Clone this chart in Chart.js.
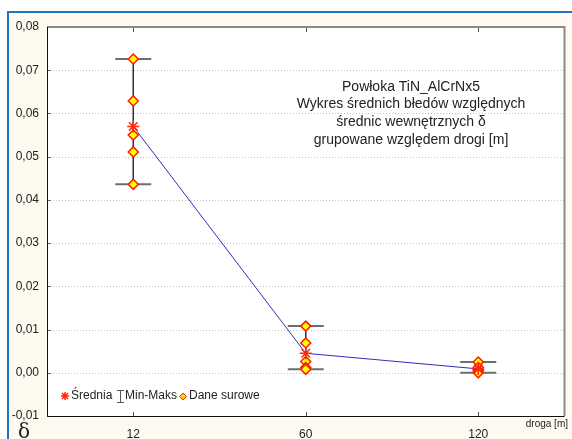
<!DOCTYPE html>
<html>
<head>
<meta charset="utf-8">
<script src="https://cdn.jsdelivr.net/npm/chart.js@4/dist/chart.umd.min.js"></script>
<style>
  html, body { margin: 0; padding: 0; background: #fff; }
  #wrap { width: 572px; height: 439px; }
</style>
</head>
<body>
<div id="wrap"><canvas id="myChart" width="572" height="439"></canvas></div>
<script>
// data
var categories = ['12', '60', '120'];
var rawValues = [
  [0.0726, 0.0629, 0.0550, 0.0511, 0.0436],
  [0.0108, 0.0069, 0.0026, 0.0012, 0.0008],
  [0.0025, 0.0012, 0.0005, 0.0001, 0.0000]
];
var meanValues = [0.0570, 0.0045, 0.0009];
var minValues = [0.0436, 0.0008, 0.0000];
var maxValues = [0.0726, 0.0108, 0.0025];
var yTicks = [-0.01, 0, 0.01, 0.02, 0.03, 0.04, 0.05, 0.06, 0.07, 0.08];
var titleLines = [
  'Powłoka TiN_AlCrNx5',
  'Wykres średnich błedów względnych',
  'średnic wewnętrznych δ',
  'grupowane względem drogi [m]'
];
var legendLabels = ['Średnia', 'Min-Maks', 'Dane surowe'];
var yAxisTitle = 'δ';
var xAxisTitle = 'droga [m]';

var FONT = '"Liberation Sans", Arial, sans-serif';

var rawPoints = [];
rawValues.forEach(function (vals, i) {
  vals.forEach(function (v) { rawPoints.push({ x: categories[i], y: v }); });
});

var chartDeco = {
  id: 'chartDeco',
  beforeDraw: function (chart) {
    var c = chart.ctx, a = chart.chartArea;
    c.save();
    c.fillStyle = '#ffffff';
    c.fillRect(0, 0, chart.width, chart.height);
    c.fillStyle = '#fffaf0';
    c.fillRect(8, 12, chart.width, chart.height);
    c.fillStyle = '#1f73c6';
    c.fillRect(7, 11, chart.width, 2);
    c.fillRect(7, 11, 2, chart.height);
    c.fillStyle = '#ffffff';
    c.fillRect(a.left, a.top, a.right - a.left, a.bottom - a.top);
    c.restore();
  },
  beforeDatasetsDraw: function (chart) {
    var c = chart.ctx, a = chart.chartArea;
    var xs = chart.scales.x, ys = chart.scales.y;
    c.save();
    // dotted grid + inner tick marks
    yTicks.forEach(function (t) {
      var y = Math.round(ys.getPixelForValue(t)) + 0.5;
      if (t > -0.01 && t < 0.08) {
        c.strokeStyle = '#c4c4c4';
        c.lineWidth = 1;
        c.setLineDash([1, 2]);
        c.beginPath(); c.moveTo(a.left, y); c.lineTo(a.right, y); c.stroke();
      }
      c.setLineDash([]);
      c.strokeStyle = '#666';
      c.beginPath(); c.moveTo(a.left, y); c.lineTo(a.left + 4, y); c.stroke();
    });
    c.setLineDash([]);
    categories.forEach(function (cat, i) {
      var x = Math.round(xs.getPixelForValue(i)) + 0.5;
      c.strokeStyle = '#555';
      c.lineWidth = 1;
      c.beginPath(); c.moveTo(x, a.top); c.lineTo(x, a.top + 5); c.stroke();
      c.beginPath(); c.moveTo(x, a.bottom); c.lineTo(x, a.bottom - 4); c.stroke();
    });
    // min-max whiskers
    categories.forEach(function (cat, i) {
      var x = xs.getPixelForValue(i);
      var y0 = ys.getPixelForValue(minValues[i]);
      var y1 = ys.getPixelForValue(maxValues[i]);
      c.strokeStyle = '#333';
      c.lineWidth = 1.5;
      c.beginPath(); c.moveTo(x, y0); c.lineTo(x, y1); c.stroke();
      c.strokeStyle = '#6e6e6e';
      c.lineWidth = 2;
      c.beginPath(); c.moveTo(x - 18, y0); c.lineTo(x + 18, y0); c.stroke();
      c.beginPath(); c.moveTo(x - 18, y1); c.lineTo(x + 18, y1); c.stroke();
    });
    c.restore();
  },
  afterDatasetsDraw: function (chart) {
    var c = chart.ctx, a = chart.chartArea;
    c.save();
    // plot frame
    c.strokeStyle = '#8a8a8a';
    c.lineWidth = 2;
    c.beginPath(); c.moveTo(a.left, a.top); c.lineTo(a.right, a.top); c.lineTo(a.right, a.bottom); c.stroke();
    c.strokeStyle = '#111';
    c.lineWidth = 1;
    c.beginPath(); c.moveTo(a.left + 0.5, a.top); c.lineTo(a.left + 0.5, a.bottom + 0.5); c.lineTo(a.right, a.bottom + 0.5); c.stroke();

    // title block inside the plot
    c.fillStyle = '#222';
    c.font = '14px ' + FONT;
    c.textAlign = 'center';
    c.textBaseline = 'middle';
    var ty = [87, 104, 122, 140];
    titleLines.forEach(function (t, i) { c.fillText(t, 411, ty[i]); });

    // legend
    var ly = 396;
    c.font = '12px ' + FONT;
    c.textAlign = 'left';
    c.strokeStyle = '#ff2a00';
    c.lineWidth = 1.5;
    c.beginPath();
    c.moveTo(61, ly); c.lineTo(69, ly);
    c.moveTo(65, ly - 4); c.lineTo(65, ly + 4);
    c.moveTo(62, ly - 3); c.lineTo(68, ly + 3);
    c.moveTo(62, ly + 3); c.lineTo(68, ly - 3);
    c.stroke();
    c.fillStyle = '#222';
    c.fillText(legendLabels[0], 71, ly);
    c.strokeStyle = '#555';
    c.lineWidth = 1;
    c.beginPath();
    c.moveTo(120.5, ly - 5); c.lineTo(120.5, ly + 6);
    c.moveTo(117, ly - 5.5); c.lineTo(124, ly - 5.5);
    c.moveTo(117, ly + 6.5); c.lineTo(124, ly + 6.5);
    c.stroke();
    c.fillText(legendLabels[1], 125, ly);
    c.fillStyle = '#ffd000';
    c.strokeStyle = '#ff2a00';
    c.beginPath();
    c.moveTo(183, ly - 3); c.lineTo(186.5, ly + 0.5); c.lineTo(183, ly + 4); c.lineTo(179.5, ly + 0.5); c.closePath();
    c.fill(); c.stroke();
    c.fillStyle = '#222';
    c.fillText(legendLabels[2], 189, ly);

    // axis titles
    c.font = '20px "DejaVu Serif", serif';
    c.textAlign = 'center';
    c.fillText(yAxisTitle, 24, 433);
    c.font = '10px ' + FONT;
    c.textAlign = 'right';
    c.fillText(xAxisTitle, 568, 424);
    c.restore();
  }
};

var ctx = document.getElementById('myChart').getContext('2d');
var myChart = new Chart(ctx, {
  type: 'line',
  data: {
    labels: categories,
    datasets: [{
      label: legendLabels[0],
      data: meanValues,
      borderColor: '#2f2fc0',
      borderWidth: 1,
      pointStyle: 'star',
      pointRadius: 6,
      pointBorderColor: '#ff2a00',
      pointBorderWidth: 1.5,
      pointBackgroundColor: '#ffb000',
      tension: 0
    }, {
      label: legendLabels[2],
      data: rawPoints,
      showLine: false,
      pointStyle: 'rectRot',
      pointRadius: 5,
      pointBorderColor: '#ff1a00',
      pointBorderWidth: 1.5,
      pointBackgroundColor: '#ffff00'
    }]
  },
  plugins: [chartDeco],
  options: {
    responsive: false,
    animation: false,
    layout: { padding: { top: 27, right: 4, left: 0, bottom: 0 } },
    plugins: { legend: { display: false }, tooltip: { enabled: false }, title: { display: false } },
    scales: {
      x: {
        type: 'category',
        offset: true,
        grid: { display: false, drawTicks: false },
        border: { display: false },
        afterFit: function (s) { s.height = 23; },
        ticks: { color: '#222', font: { size: 12, family: FONT }, padding: 11, maxRotation: 0 }
      },
      y: {
        min: -0.01,
        max: 0.08,
        grid: { display: false, drawTicks: false },
        border: { display: false },
        afterFit: function (s) { s.width = 47; },
        afterBuildTicks: function (s) { s.ticks = yTicks.map(function (v) { return { value: v }; }); },
        ticks: {
          color: '#222',
          font: { size: 12, family: FONT },
          padding: 8,
          callback: function (v) { return v.toFixed(2).replace('.', ','); }
        }
      }
    }
  }
});
</script>
</body>
</html>
